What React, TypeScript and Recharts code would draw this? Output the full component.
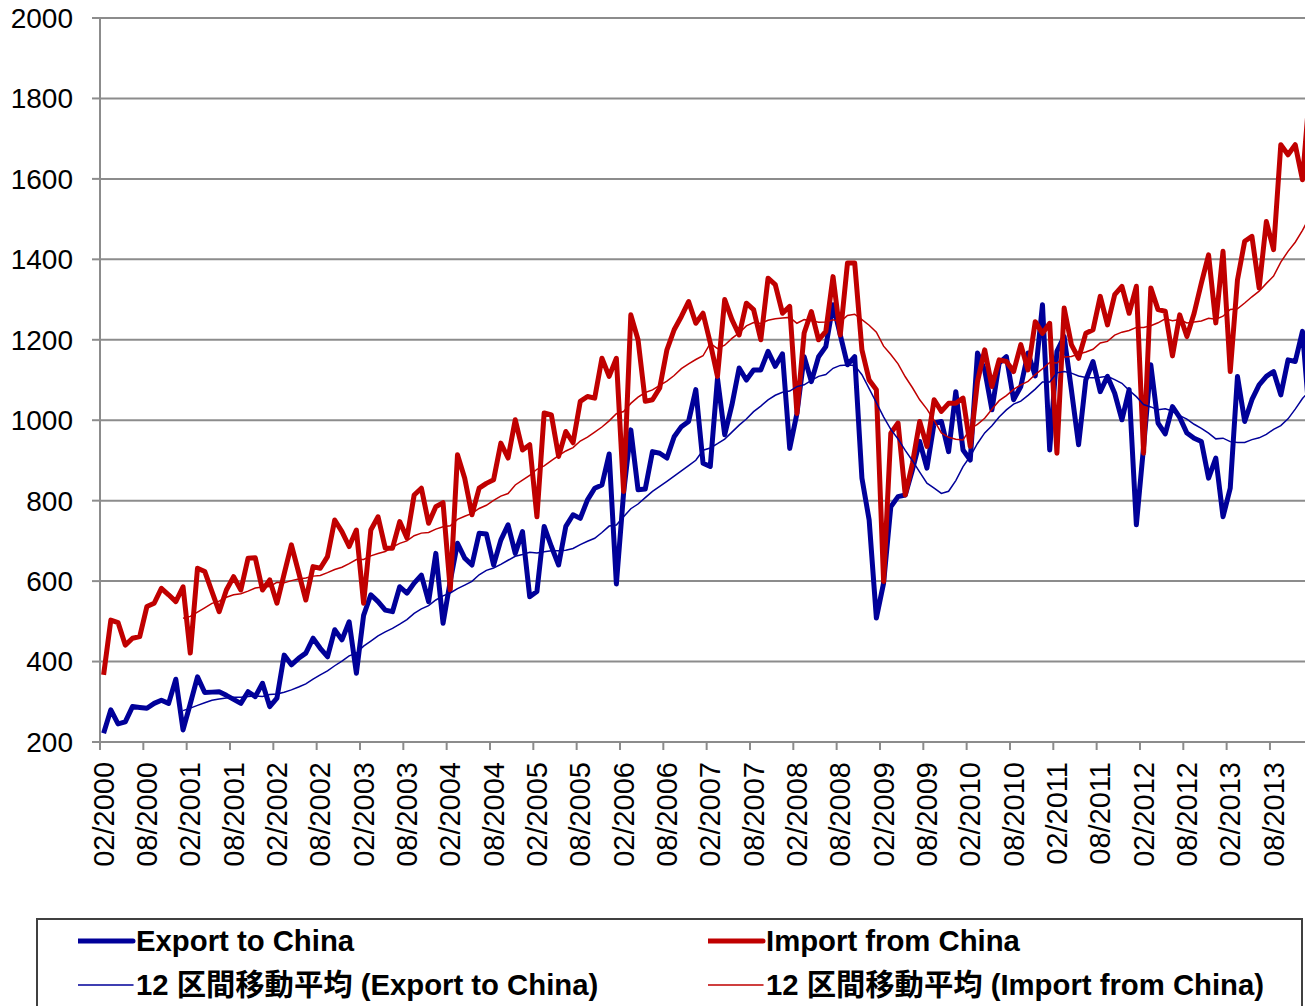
import React from 'react';
import { LineChart, Line, XAxis, YAxis, CartesianGrid } from 'recharts';

// ---------- data ----------
const START_YEAR = 2000;
const START_MONTH = 2; // February 2000
const N_MONTHS = 168;

const months: string[] = Array.from({ length: N_MONTHS }, (_, i) => {
  const m0 = START_MONTH - 1 + i;
  const y = START_YEAR + Math.floor(m0 / 12);
  const m = (m0 % 12) + 1;
  return `${String(m).padStart(2, '0')}/${y}`;
});

const exportToChina: number[] = [
  222, 280, 245, 250, 288, 286, 284, 296, 304, 296, 356, 230,
  295, 362, 323, 324, 325, 316, 306, 296, 325, 313, 346, 288,
  309, 416, 392, 408, 421, 458, 433, 412, 479, 454, 499, 371,
  515, 566, 549, 528, 524, 586, 570, 595, 615, 549, 669, 495,
  600, 694, 657, 640, 719, 717, 640, 702, 740, 669, 723, 561,
  574, 736, 686, 640, 736, 765, 756, 802, 831, 839, 916, 593,
  819, 976, 827, 829, 922, 918, 906, 959, 984, 997, 1076, 893,
  885, 1104, 964, 1038, 1130, 1100, 1125, 1125, 1171, 1134, 1165, 930,
  1017, 1158, 1096, 1158, 1183, 1287, 1212, 1138, 1158, 856, 752, 508,
  595, 785, 810, 814, 877, 947, 881, 993, 997, 922, 1071, 926,
  901, 1167, 1125, 1026, 1142, 1158, 1051, 1084, 1167, 1110, 1287, 926,
  1171, 1208, 1076, 939, 1100, 1146, 1071, 1109, 1067, 1001, 1076, 740,
  934, 1138, 993, 966, 1034, 1007, 968, 955, 947, 856, 906, 760,
  831, 1109, 997, 1051, 1088, 1109, 1121, 1063, 1150, 1146, 1221, 1000,
];

const importFromChina: number[] = [
  367, 503, 497, 441, 458, 462, 537, 545, 582, 566, 549, 586,
  421, 632, 624, 574, 524, 578, 611, 578, 657, 658, 578, 603,
  545, 618, 690, 622, 553, 636, 632, 661, 752, 723, 686, 727,
  545, 727, 760, 682, 682, 748, 707, 814, 831, 744, 785, 795,
  578, 914, 856, 765, 831, 843, 852, 943, 906, 1001, 926, 939,
  760, 1018, 1013, 910, 972, 944, 1047, 1059, 1055, 1154, 1109, 1154,
  823, 1262, 1200, 1047, 1051, 1080, 1175, 1225, 1258, 1295, 1241, 1266,
  1192, 1109, 1300, 1250, 1212, 1291, 1275, 1200, 1353, 1337, 1266, 1283,
  1017, 1217, 1270, 1200, 1221, 1357, 1212, 1391, 1391, 1175, 1100, 1076,
  599, 968, 993, 814, 893, 997, 935, 1051, 1022, 1042, 1042, 1055,
  935, 1096, 1175, 1084, 1150, 1146, 1121, 1188, 1125, 1245, 1216, 1241,
  918, 1279, 1188, 1154, 1216, 1225, 1308, 1237, 1312, 1333, 1266, 1333,
  918, 1329, 1275, 1271, 1160, 1262, 1208, 1266, 1341, 1411, 1242, 1420,
  1121, 1349, 1445, 1457, 1329, 1494, 1424, 1685, 1660, 1685, 1598, 1820,
];

const yTicks: number[] = [200, 400, 600, 800, 1000, 1200, 1400, 1600, 1800, 2000];

const SERIES_EXPORT = 'Export to China';
const SERIES_IMPORT = 'Import from China';
const SERIES_EXPORT_MA = '12 区間移動平均 (Export to China)';
const SERIES_IMPORT_MA = '12 区間移動平均 (Import from China)';

// 12-period moving-average trendline (as in the original chart)
const MA_PERIOD = 12;
function movingAverage(values: number[], period: number): (number | null)[] {
  return values.map((_, i) => {
    if (i < period - 1) return null;
    let s = 0;
    for (let k = i - period + 1; k <= i; k++) s += values[k];
    return s / period;
  });
}
const exportMA = movingAverage(exportToChina, MA_PERIOD);
const importMA = movingAverage(importFromChina, MA_PERIOD);

const data = months.map((m, i) => ({
  month: m,
  exp: exportToChina[i],
  imp: importFromChina[i],
  expMA: exportMA[i],
  impMA: importMA[i],
}));

// ---------- style ----------
const FONT = '"Liberation Sans", Arial, Helvetica, sans-serif';
const LEGEND_FONT = '"Liberation Sans", Arial, "Noto Sans CJK JP", sans-serif';
const GRID = '#8c8c8c';
const BLUE = '#000099';
const RED = '#c00000';
const CHART_W = 1320;
const CHART_H = 900;
const MARGIN = { top: 18, right: 6.7, bottom: 0, left: 0 };
const Y_AXIS_W = 100;
const X_TICK_SIZE = 8;
const X_TICK_MARGIN = 12;
const HALF_BAND = (CHART_W - MARGIN.left - MARGIN.right - Y_AXIS_W) / N_MONTHS / 2;

function MonthTick(props: any) {
  const { x, y, payload } = props;
  const axisY = y - X_TICK_SIZE - X_TICK_MARGIN;
  return (
    <g>
      <line
        x1={x - HALF_BAND}
        x2={x - HALF_BAND}
        y1={axisY}
        y2={axisY + X_TICK_SIZE}
        stroke={GRID}
        strokeWidth={2}
      />
      <text
        x={x}
        y={y}
        transform={`rotate(-90 ${x} ${y})`}
        textAnchor="end"
        dominantBaseline="central"
        fontSize={29}
        fontFamily={FONT}
        fill="#000"
      >
        {payload.value}
      </text>
    </g>
  );
}

function LegendItem({ left, top, color, width, label }: any) {
  return (
    <div
      style={{
        position: 'absolute',
        left,
        top,
        height: 40,
        display: 'flex',
        alignItems: 'center',
        whiteSpace: 'nowrap',
      }}
    >
      <svg width={58} height={40} style={{ display: 'block' }}>
        <line x1={0} x2={55} y1={20} y2={20} stroke={color} strokeWidth={width} strokeLinecap="round" />
      </svg>
      <span
        style={{
          fontFamily: LEGEND_FONT,
          fontWeight: 'bold',
          fontSize: 29.3,
          lineHeight: '40px',
          color: '#000',
        }}
      >
        {label}
      </span>
    </div>
  );
}

export default function App() {
  return (
    <div
      style={{
        position: 'absolute',
        left: 0,
        top: 0,
        width: 1305,
        height: 1006,
        overflow: 'hidden',
        background: '#fff',
      }}
    >
      <LineChart width={CHART_W} height={CHART_H} data={data} margin={MARGIN}>
        <CartesianGrid vertical={false} stroke={GRID} strokeWidth={2} />
        <XAxis
          dataKey="month"
          scale="band"
          interval={5}
          height={CHART_H - 742 - MARGIN.bottom}
          tickSize={X_TICK_SIZE}
          tickMargin={X_TICK_MARGIN}
          tickLine={false}
          axisLine={{ stroke: GRID, strokeWidth: 2 }}
          tick={<MonthTick />}
        />
        <YAxis
          type="number"
          domain={[200, 2000]}
          ticks={yTicks}
          interval={0}
          width={Y_AXIS_W}
          tickSize={8}
          tickMargin={19}
          allowDataOverflow
          axisLine={{ stroke: GRID, strokeWidth: 2 }}
          tickLine={{ stroke: GRID, strokeWidth: 2 }}
          tick={{ fontSize: 28, fill: '#000', fontFamily: FONT }}
        />
        <Line
          name={SERIES_EXPORT}
          dataKey="exp"
          type="linear"
          stroke={BLUE}
          strokeWidth={5}
          strokeLinejoin="round"
          dot={false}
          activeDot={false}
          isAnimationActive={false}
        />
        <Line
          name={SERIES_IMPORT}
          dataKey="imp"
          type="linear"
          stroke={RED}
          strokeWidth={5}
          strokeLinejoin="round"
          dot={false}
          activeDot={false}
          isAnimationActive={false}
        />
        <Line
          name={SERIES_EXPORT_MA}
          dataKey="expMA"
          type="linear"
          stroke={BLUE}
          strokeWidth={1.5}
          dot={false}
          activeDot={false}
          connectNulls={false}
          isAnimationActive={false}
        />
        <Line
          name={SERIES_IMPORT_MA}
          dataKey="impMA"
          type="linear"
          stroke={RED}
          strokeWidth={1.5}
          dot={false}
          activeDot={false}
          connectNulls={false}
          isAnimationActive={false}
        />
      </LineChart>
      <div
        style={{
          position: 'absolute',
          left: 36,
          top: 918,
          width: 1267,
          height: 120,
          border: '2px solid #404040',
          boxSizing: 'border-box',
          background: '#fff',
        }}
      >
        <LegendItem left={40} top={1} color={BLUE} width={5} label={SERIES_EXPORT} />
        <LegendItem left={670} top={1} color={RED} width={5} label={SERIES_IMPORT} />
        <LegendItem left={40} top={45} color={BLUE} width={1.5} label={SERIES_EXPORT_MA} />
        <LegendItem left={670} top={45} color={RED} width={1.5} label={SERIES_IMPORT_MA} />
      </div>
    </div>
  );
}
